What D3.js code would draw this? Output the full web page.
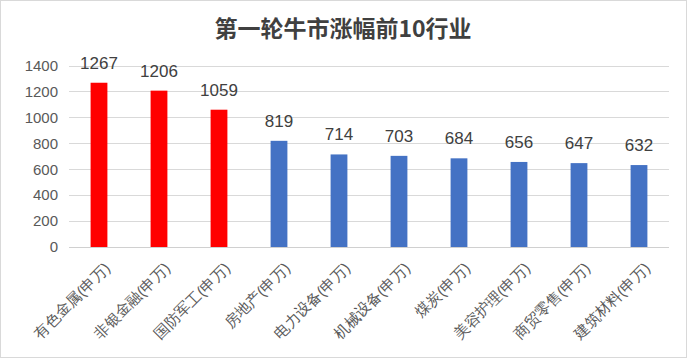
<!DOCTYPE html>
<html><head><meta charset="utf-8">
<script src="https://cdn.jsdelivr.net/npm/d3@7/dist/d3.min.js"></script>
<style>body{margin:0;background:#fff;}svg{display:block;font-family:"Noto Sans CJK SC","Noto Sans",sans-serif;}</style>
</head><body><svg id="c" width="688" height="359"></svg>
<script>
const categories = ["有色金属(申万)","非银金融(申万)","国防军工(申万)","房地产(申万)","电力设备(申万)","机械设备(申万)","煤炭(申万)","美容护理(申万)","商贸零售(申万)","建筑材料(申万)"];
const values = [1267,1206,1059,819,714,703,684,656,647,632];
const colors = ["#FF0000","#FF0000","#FF0000","#4472C4","#4472C4","#4472C4","#4472C4","#4472C4","#4472C4","#4472C4"];
const yTicks = [0,200,400,600,800,1000,1200,1400];
const title = "第一轮牛市涨幅前10行业";

const svg = d3.select("#c");
const W = 688, H = 359;
const m = {l:69, r:19, t:65, b:112};
svg.append("rect").attr("x",0.5).attr("y",0.5).attr("width",W-2).attr("height",H-2)
  .attr("fill","#fff").attr("stroke","#d9d9d9");
svg.append("text").attr("x",343).attr("y",37).attr("text-anchor","middle")
  .attr("font-size",23).attr("font-weight","bold").attr("fill","#404040").text(title);

const x = d3.scaleBand().domain(categories).range([m.l, W-m.r]).paddingInner(0.72).paddingOuter(0.36);
const y = d3.scaleLinear().domain([0,1400]).range([247, 65.5]);

const g = svg.append("g");
g.selectAll(".grid").data(yTicks.slice(1)).join("line")
  .attr("x1",m.l).attr("x2",W-m.r).attr("y1",d=>Math.round(y(d))+0.5).attr("y2",d=>Math.round(y(d))+0.5)
  .attr("stroke","#d9d9d9");

const yAxis = d3.axisLeft(y).tickValues(yTicks).tickFormat(d3.format("d")).tickSize(0).tickPadding(11);
const ya = svg.append("g").attr("transform",`translate(${m.l},0)`).call(yAxis);
ya.select(".domain").remove();
ya.selectAll("text").attr("font-size",15).attr("fill","#595959").attr("font-family","Liberation Sans, Arial, sans-serif");

svg.selectAll(".bar").data(values).join("rect")
  .attr("x",(d,i)=>x(categories[i])).attr("width",x.bandwidth())
  .attr("y",d=>y(d)).attr("height",d=>y(0)-y(d)).attr("fill",(d,i)=>colors[i]);

svg.append("line").attr("x1",m.l).attr("x2",W-m.r).attr("y1",Math.round(y(0))+0.5).attr("y2",Math.round(y(0))+0.5)
  .attr("stroke","#d0d0d0");

svg.selectAll(".lbl").data(values).join("text")
  .attr("x",(d,i)=>x(categories[i])+x.bandwidth()/2).attr("y",d=>y(d)-14)
  .attr("text-anchor","middle").attr("font-size",17).attr("fill","#404040")
  .attr("font-family","Liberation Sans, Arial, sans-serif").text(d=>d);

const xAxis = d3.axisBottom(x).tickSize(0).tickPadding(0);
const xa = svg.append("g").attr("transform",`translate(0,${y(0)})`).call(xAxis);
xa.select(".domain").remove();
xa.selectAll("text").attr("font-size",15).attr("fill","#595959")
  .attr("text-anchor","end")
  .attr("transform","translate(4,14) rotate(-45)")
  .attr("y",0).attr("x",0).attr("dy","0.75em");
</script></body></html>
